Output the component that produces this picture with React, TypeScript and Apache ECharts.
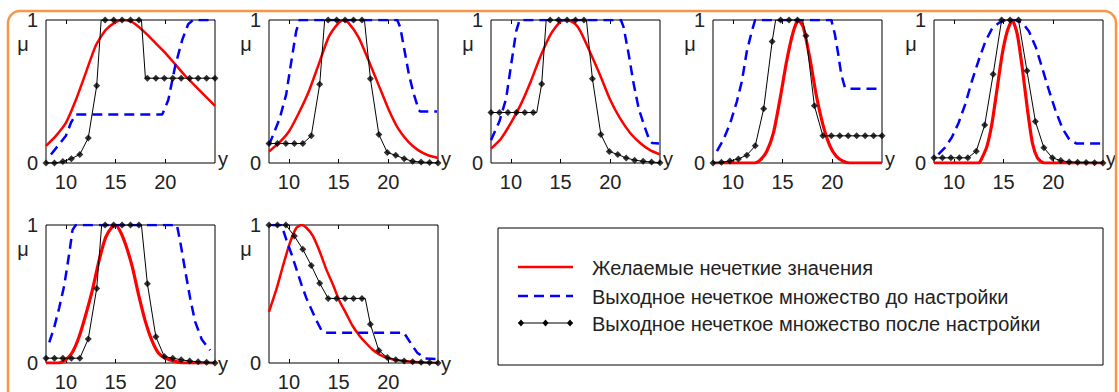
import React, { useEffect, useRef } from 'react';
import * as echarts from 'echarts';

// ---------- shared axis values ----------
const MARKER_X = [8, 8.85, 9.7, 10.55, 11.4, 12.25, 13.1, 13.95, 14.8, 15.65, 16.5, 17.35, 18.2, 19.05, 19.9, 20.75, 21.6, 22.45, 23.3, 24.15, 25];
const X_TICKS = [10, 15, 20];
const X_MIN = 8;
const X_MAX = 25;
const LEGEND_LABELS = [
  'Желаемые нечеткие значения',
  'Выходное нечеткое множество до настройки',
  'Выходное нечеткое множество после настройки',
];

// ---------- panel 1 ----------
const DESIRED_1 = [[8, 0.12], [9, 0.19], [10, 0.28], [11, 0.44], [12, 0.63], [13, 0.82], [14, 0.93], [15, 0.985], [15.7, 1], [16.5, 0.99], [17, 0.97], [18, 0.91], [19, 0.84], [20, 0.77], [21, 0.69], [22, 0.61], [23, 0.54], [24, 0.47], [25, 0.4]];
const BEFORE_1 = [[8.5, 0.06], [9.2, 0.12], [10, 0.19], [10.5, 0.28], [11, 0.34], [19.7, 0.34], [20.3, 0.44], [21, 0.68], [21.7, 0.86], [22.3, 0.97], [22.8, 1], [25, 1]];
const AFTER_1 = [0, 0, 0.01, 0.03, 0.06, 0.175, 0.54, 1, 1, 1, 1, 1, 0.593, 0.593, 0.593, 0.593, 0.593, 0.593, 0.593, 0.593, 0.593];
const KNEES_1 = [[13.55, 1], [17.6, 1], [18.0, 0.593]];

// ---------- panel 2 ----------
const DESIRED_2 = [[8, 0.08], [9, 0.14], [10, 0.22], [11, 0.35], [12, 0.5], [13, 0.69], [14, 0.88], [15, 0.98], [15.5, 1], [16, 0.98], [17, 0.88], [18, 0.72], [19, 0.55], [20, 0.38], [21, 0.24], [22, 0.15], [23, 0.09], [24, 0.054], [25, 0.035]];
const BEFORE_2 = [[8, 0.125], [9.07, 0.31], [9.73, 0.48], [10.2, 0.69], [10.73, 0.92], [11.07, 1], [20.9, 1], [21.2, 0.95], [21.57, 0.81], [22.07, 0.62], [22.57, 0.48], [23.07, 0.37], [23.2, 0.36], [24.9, 0.36]];
const AFTER_2 = [0.136, 0.136, 0.136, 0.136, 0.136, 0.19, 0.55, 1, 1, 1, 1, 1, 0.59, 0.2, 0.073, 0.054, 0.03, 0.012, 0.007, 0.003, 0];
const KNEES_2 = [[13.6, 1], [17.6, 1]];

// ---------- panel 3 ----------
const DESIRED_3 = [[8, 0.1], [9, 0.17], [10, 0.28], [11, 0.41], [12, 0.57], [13, 0.75], [14, 0.9], [15, 0.99], [15.7, 1], [16.5, 0.97], [17, 0.92], [18, 0.77], [19, 0.61], [20, 0.44], [21, 0.31], [22, 0.21], [23, 0.14], [24, 0.09], [25, 0.06]];
const BEFORE_3 = [[8, 0.16], [8.84, 0.29], [9.52, 0.45], [10.03, 0.69], [10.53, 0.92], [10.87, 1], [21.07, 1], [21.34, 0.95], [21.85, 0.76], [22.36, 0.55], [22.86, 0.38], [23.37, 0.27], [23.88, 0.17], [24.2, 0.14], [24.9, 0.136]];
const AFTER_3 = [0.353, 0.353, 0.353, 0.353, 0.353, 0.353, 0.553, 1, 1, 1, 1, 1, 0.59, 0.2, 0.08, 0.06, 0.035, 0.02, 0.012, 0.007, 0.002];
const KNEES_3 = [[12.6, 0.353], [13.55, 1], [17.6, 1]];

// ---------- panel 4 ----------
const DESIRED_4 = [[8, 0], [12.2, 0], [12.74, 0.02], [13.4, 0.08], [14.08, 0.21], [14.75, 0.45], [15.4, 0.71], [16.08, 0.92], [16.58, 1], [17.08, 0.95], [17.75, 0.73], [18.4, 0.47], [19.09, 0.26], [19.76, 0.12], [20.4, 0.047], [21.1, 0.012], [21.76, 0], [25, 0]];
const BEFORE_4 = [[8.4, 0.083], [9.07, 0.166], [9.74, 0.28], [10.4, 0.43], [10.9, 0.57], [11.4, 0.78], [11.9, 0.92], [12.24, 1], [19.9, 1], [20.26, 0.9], [20.6, 0.76], [20.9, 0.62], [21.26, 0.53], [21.6, 0.52], [25, 0.52]];
const AFTER_4 = [0, 0.005, 0.014, 0.028, 0.055, 0.12, 0.38, 0.85, 1, 1, 1, 0.89, 0.4, 0.19, 0.19, 0.19, 0.19, 0.19, 0.19, 0.19, 0.19];
const KNEES_4 = [[14.3, 1], [17.0, 1]];

// ---------- panel 5 ----------
const DESIRED_5 = [[8, 0], [12.5, 0], [12.83, 0.036], [13.34, 0.12], [13.84, 0.28], [14.35, 0.52], [14.86, 0.76], [15.36, 0.92], [15.87, 1], [16.38, 0.9], [16.89, 0.66], [17.39, 0.38], [17.9, 0.14], [18.4, 0.036], [18.9, 0.005], [19.3, 0], [25, 0]];
const BEFORE_5 = [[8.44, 0.06], [9.1, 0.107], [9.8, 0.18], [10.47, 0.28], [11.14, 0.41], [11.8, 0.57], [12.5, 0.72], [13.17, 0.85], [13.84, 0.94], [14.52, 0.98], [15.2, 1], [16.2, 1], [16.9, 0.98], [17.56, 0.92], [18.24, 0.81], [18.9, 0.66], [19.6, 0.5], [20.26, 0.36], [20.94, 0.24], [21.6, 0.166], [22.3, 0.137], [25, 0.137]];
const AFTER_5 = [0.036, 0.036, 0.036, 0.036, 0.036, 0.083, 0.265, 0.62, 1, 1, 1, 0.645, 0.29, 0.107, 0.036, 0.017, 0.007, 0.005, 0.003, 0.002, 0];
const KNEES_5: number[][] = [];

// ---------- panel 6 ----------
const DESIRED_6 = [[8, 0], [9.3, 0], [10, 0.023], [10.67, 0.08], [11.33, 0.19], [12, 0.35], [12.67, 0.53], [13.33, 0.74], [14, 0.91], [14.67, 0.99], [15, 1], [15.5, 0.95], [16, 0.86], [16.67, 0.7], [17.33, 0.49], [18, 0.3], [18.67, 0.16], [19.33, 0.07], [20, 0.035], [21, 0.012], [22, 0], [25, 0]];
const BEFORE_6 = [[8.33, 0.15], [8.83, 0.26], [9.33, 0.4], [9.83, 0.56], [10.33, 0.79], [10.67, 0.965], [11, 1], [21.17, 1], [21.5, 0.88], [22, 0.67], [22.5, 0.47], [23, 0.3], [23.67, 0.17], [24.5, 0.093]];
const AFTER_6 = [0.035, 0.035, 0.035, 0.035, 0.035, 0.174, 0.54, 1, 1, 1, 1, 1, 0.574, 0.19, 0.047, 0.035, 0.023, 0.014, 0.009, 0.005, 0];
const KNEES_6 = [[13.6, 1], [17.6, 1]];

// ---------- panel 7 ----------
const DESIRED_7 = [[8, 0.37], [8.77, 0.54], [9.43, 0.71], [10.1, 0.87], [10.76, 0.98], [11.26, 1], [11.76, 0.98], [12.42, 0.92], [13.09, 0.81], [13.75, 0.68], [14.42, 0.57], [15.09, 0.45], [15.75, 0.36], [16.4, 0.27], [17.08, 0.2], [17.75, 0.145], [18.4, 0.098], [19.08, 0.063], [20.08, 0.033], [21.4, 0.016], [23.07, 0.005], [25, 0]];
const BEFORE_7 = [[8.27, 1], [9.26, 1], [9.76, 0.89], [10.26, 0.79], [10.76, 0.68], [11.26, 0.57], [11.76, 0.47], [12.26, 0.39], [12.76, 0.31], [13.26, 0.24], [13.59, 0.22], [21.57, 0.22], [22.24, 0.145], [22.9, 0.075], [23.73, 0.033], [24.9, 0.028]];
const AFTER_7 = [1, 1, 1, 0.92, 0.824, 0.707, 0.578, 0.468, 0.468, 0.468, 0.468, 0.468, 0.28, 0.09, 0.04, 0.023, 0.014, 0.009, 0.005, 0.003, 0];
const KNEES_7 = [[17.68, 0.468]];

// ---------- layout / style (positions only) ----------
const GRID_LEFT = [46, 269, 491, 713, 934, 46, 269];
const GRID_TOP = [20, 20, 20, 20, 20, 225, 225];
const GRID_W = 169;
const GRID_H = 143;
const RED_WIDTH = [2.5, 2.5, 2.5, 3.2, 3.2, 3.2, 2.5];

const FONT = '"Liberation Sans", Arial, sans-serif';
const TEXT_COLOR = '#222';
const RED = '#ff0000';
const BLUE = '#0000ff';
const BLACK = '#000000';

export default function App() {
  const ref = useRef<HTMLDivElement>(null);

  useEffect(() => {
    if (!ref.current) return;
    const chart = echarts.init(ref.current, undefined, { renderer: 'svg' });

    const panels = [
      { desired: DESIRED_1, before: BEFORE_1, after: AFTER_1, knees: KNEES_1 },
      { desired: DESIRED_2, before: BEFORE_2, after: AFTER_2, knees: KNEES_2 },
      { desired: DESIRED_3, before: BEFORE_3, after: AFTER_3, knees: KNEES_3 },
      { desired: DESIRED_4, before: BEFORE_4, after: AFTER_4, knees: KNEES_4 },
      { desired: DESIRED_5, before: BEFORE_5, after: AFTER_5, knees: KNEES_5 },
      { desired: DESIRED_6, before: BEFORE_6, after: AFTER_6, knees: KNEES_6 },
      { desired: DESIRED_7, before: BEFORE_7, after: AFTER_7, knees: KNEES_7 },
    ];

    const grids: any[] = [];
    const xAxes: any[] = [];
    const yAxes: any[] = [];
    const series: any[] = [];
    const graphics: any[] = [];

    graphics.push({
      type: 'rect',
      shape: { x: 8, y: 11, width: 1108, height: 392, r: 12 },
      style: { fill: 'none', stroke: '#f79646', lineWidth: 2.5 },
      z: 100,
    });

    panels.forEach((p, k) => {
      const left = GRID_LEFT[k];
      const top = GRID_TOP[k];
      grids.push({
        left, top, width: GRID_W, height: GRID_H,
        show: true, borderColor: BLACK, borderWidth: 1, backgroundColor: '#fff',
      });
      const common = {
        type: 'value', gridIndex: k, min: X_MIN, max: X_MAX,
        axisLine: { show: false }, splitLine: { show: false },
      };
      xAxes.push({
        ...common, position: 'bottom',
        axisTick: { show: true, inside: true, length: 4, customValues: X_TICKS, lineStyle: { color: BLACK } },
        axisLabel: { show: true, customValues: X_TICKS, margin: 9, fontSize: 20, color: TEXT_COLOR, fontFamily: FONT },
      });
      xAxes.push({
        ...common, position: 'top',
        axisTick: { show: true, inside: true, length: 4, customValues: X_TICKS, lineStyle: { color: BLACK } },
        axisLabel: { show: false },
      });
      yAxes.push({
        type: 'value', gridIndex: k, min: 0, max: 1, interval: 1,
        axisLine: { show: false }, axisTick: { show: false }, splitLine: { show: false },
        axisLabel: { margin: 8, fontSize: 20, color: TEXT_COLOR, fontFamily: FONT },
      });

      const markerPts = MARKER_X.map((x, i) => [x, p.after[i]]);
      const linePts = [...markerPts, ...p.knees].sort((a, b) => a[0] - b[0]);

      series.push({
        type: 'line', name: LEGEND_LABELS[0], xAxisIndex: 2 * k, yAxisIndex: k,
        data: p.desired, symbol: 'none', smooth: 0.2,
        lineStyle: { color: RED, width: RED_WIDTH[k] }, z: 2,
      });
      series.push({
        type: 'line', name: LEGEND_LABELS[1], xAxisIndex: 2 * k, yAxisIndex: k,
        data: p.before, symbol: 'none',
        lineStyle: { color: BLUE, width: 2.5, type: [10, 6] }, z: 3,
      });
      series.push({
        type: 'line', name: LEGEND_LABELS[2], xAxisIndex: 2 * k, yAxisIndex: k,
        data: linePts, symbol: 'none',
        lineStyle: { color: BLACK, width: 1 }, z: 4,
      });
      series.push({
        type: 'scatter', name: LEGEND_LABELS[2], xAxisIndex: 2 * k, yAxisIndex: k,
        data: markerPts, symbol: 'diamond', symbolSize: 7, clip: false,
        itemStyle: { color: BLACK }, z: 5,
      });

      graphics.push({
        type: 'text', x: left - 23, y: top + 24,
        style: { text: 'μ', fontSize: 20, fontFamily: FONT, fill: TEXT_COLOR, align: 'center', verticalAlign: 'middle' },
      });
      graphics.push({
        type: 'text', x: left + GRID_W + 3, y: top + GRID_H - 4,
        style: { text: 'y', fontSize: 20, fontFamily: FONT, fill: TEXT_COLOR, align: 'left', verticalAlign: 'middle' },
      });
    });

    // legend box
    const LB = { x: 498, y: 228, w: 605, h: 137 };
    const rowsY = [267, 296, 323];
    graphics.push({
      type: 'rect', shape: { x: LB.x, y: LB.y, width: LB.w, height: LB.h },
      style: { fill: '#fff', stroke: BLACK, lineWidth: 1 },
    });
    graphics.push({ type: 'line', shape: { x1: 518, y1: rowsY[0], x2: 573, y2: rowsY[0] }, style: { stroke: RED, lineWidth: 2.5 } });
    graphics.push({ type: 'line', shape: { x1: 518, y1: rowsY[1], x2: 573, y2: rowsY[1] }, style: { stroke: BLUE, lineWidth: 2.5, lineDash: [10, 6] } });
    graphics.push({ type: 'line', shape: { x1: 518, y1: rowsY[2], x2: 573, y2: rowsY[2] }, style: { stroke: BLACK, lineWidth: 1 } });
    [521, 545.5, 570].forEach((cx) => {
      graphics.push({
        type: 'polygon',
        shape: { points: [[cx, rowsY[2] - 3.5], [cx + 3, rowsY[2]], [cx, rowsY[2] + 3.5], [cx - 3, rowsY[2]]] },
        style: { fill: BLACK },
      });
    });
    LEGEND_LABELS.forEach((t, i) => {
      graphics.push({
        type: 'text', x: 592, y: rowsY[i] + 1,
        style: { text: t, fontSize: 20, fontFamily: FONT, fill: TEXT_COLOR, align: 'left', verticalAlign: 'middle' },
      });
    });

    chart.setOption({
      animation: false,
      backgroundColor: '#fff',
      grid: grids,
      xAxis: xAxes,
      yAxis: yAxes,
      series,
      graphic: graphics,
    });

    return () => chart.dispose();
  }, []);

  return (
    <div
      ref={ref}
      style={{ position: 'fixed', left: 0, top: 0, width: 1119, height: 392, background: '#fff' }}
    />
  );
}
